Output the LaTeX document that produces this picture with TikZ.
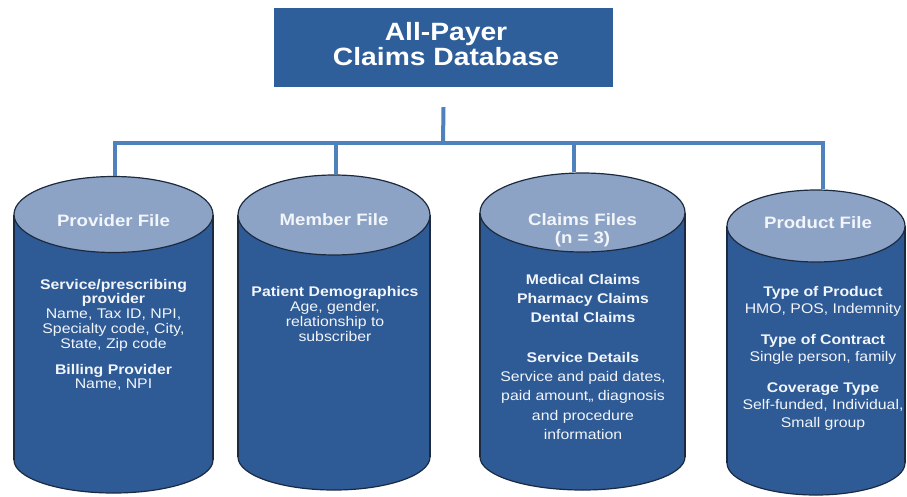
\documentclass[tikz,border=0pt]{standalone}
\usepackage{fontspec}
\setmainfont{Liberation Sans}[FakeStretch=1.13]
\usetikzlibrary{shapes.geometric}
\definecolor{boxblue}{HTML}{2F5F9B}
\definecolor{bodyblue}{HTML}{2E5A95}
\definecolor{topblue}{HTML}{8CA3C6}
\definecolor{linkblue}{HTML}{4F81BD}
\definecolor{rim}{HTML}{1C2A40}
\definecolor{txt}{HTML}{F2F5FA}
\tikzset{
  cylbody/.style={fill=bodyblue},
  cylrim/.style={draw=rim, line width=1.2pt},
  cyltop/.style={ellipse, fill=topblue, draw=rim, line width=1.2pt, inner sep=0pt},
  titletext/.style={anchor=north, inner sep=0pt, text=txt, align=center,
    font=\fontsize{16.5}{18}\selectfont\bfseries},
  bodytext/.style={anchor=north, inner sep=0pt, text=txt, align=center},
  link/.style={draw=linkblue, line width=4pt},
  titlebox/.style={fill=boxblue, inner sep=0pt, minimum width=339pt, minimum height=79pt},
  boxtext/.style={anchor=north, inner sep=0pt, text=white, align=center,
    font=\fontsize{25}{25}\selectfont\bfseries},
}
\newcommand\cylbodyshape[5]{%
  \filldraw[cylbody, cylrim] (#1,#4) ellipse [x radius=#2, y radius=#5];
  \fill[cylbody] ({#1-#2},#3) rectangle ({#1+#2},#4);
  \draw[cylrim] ({#1-#2},#3) -- ({#1-#2},#4) ({#1+#2},#3) -- ({#1+#2},#4);
}
\newcommand\bs{\rule{0pt}{11pt}}
\newcommand\ts{\rule{0pt}{13pt}}
\begin{document}
\begin{tikzpicture}[x=1pt, y=-1pt]
\useasboundingbox[fill=white] (0,0) rectangle (907,496);

% top box
\node[titlebox] (apcd) at (443.5,47.5) {};
\node[boxtext] (apcdtxt) at (446,20) {\rule{0pt}{20pt}All-Payer\\Claims Database};

% cylinder bodies
\cylbodyshape{113.5}{99.5}{214.5}{460}{33}
\cylbodyshape{334}{96}{215}{457}{33}
\cylbodyshape{582.5}{102.5}{212.5}{457}{33}
\cylbodyshape{816}{89}{226}{463}{32}

% cylinder tops
\node[cyltop, minimum width=199pt, minimum height=76pt] (prov) at (113.5,214.5) {};
\node[cyltop, minimum width=192pt, minimum height=80pt] (mem) at (334,215) {};
\node[cyltop, minimum width=205pt, minimum height=79pt] (clm) at (582.5,212.5) {};
\node[cyltop, minimum width=178pt, minimum height=72pt] (prod) at (816,226) {};

% titles
\node[titletext] (provt) at (113.5,213) {\ts Provider File};
\node[titletext] (memt) at (334,212) {\ts Member File};
\node[titletext] (clmt) at (582.5,212) {\ts Claims Files\\(n = 3)};
\node[titletext] (prodt) at (818,215) {\ts Product File};

% body texts
\node[bodytext, font=\fontsize{14}{14.75}\selectfont] (provb) at (113.5,278)
  {\textbf{\bs Service/prescribing}\\\textbf{provider}\\Name, Tax ID, NPI,\\Specialty code, City,\\State, Zip code\\[11.25pt]\textbf{Billing Provider}\\Name, NPI};
\node[bodytext, font=\fontsize{14}{15}\selectfont] (memb) at (335,285)
  {\textbf{\bs Patient Demographics}\\Age, gender,\\relationship to\\subscriber};
\node[bodytext, font=\fontsize{14}{19.3}\selectfont] (clmb) at (583,273)
  {\textbf{\bs Medical Claims}\\\textbf{Pharmacy Claims}\\\textbf{Dental Claims}\\[20pt]\textbf{Service Details}\\Service and paid dates,\\paid amount,, diagnosis\\and procedure\\information};
\node[bodytext, font=\fontsize{14}{17.5}\selectfont] (prodb) at (823,285)
  {\textbf{\bs Type of Product}\\HMO, POS, Indemnity\\[13pt]\textbf{Type of Contract}\\Single person, family\\[13pt]\textbf{Coverage Type}\\Self-funded, Individual,\\Small group};

% connectors
\coordinate (hub) at (443,143);
\draw[link] ([yshift=-20pt]apcd.south) -- (hub);
\draw[link] ([xshift=1.5pt]prov.north) -- ([xshift=1.5pt]prov.north |- hub)
  -- ([xshift=7pt]prod.north |- hub) -- ([xshift=7pt]prod.north);
\draw[link] ([xshift=2pt]mem.north |- hub) -- ([xshift=2pt]mem.north);
\draw[link] ([xshift=-9pt]clm.north |- hub) -- ([xshift=-9pt]clm.north);
\end{tikzpicture}
\end{document}
